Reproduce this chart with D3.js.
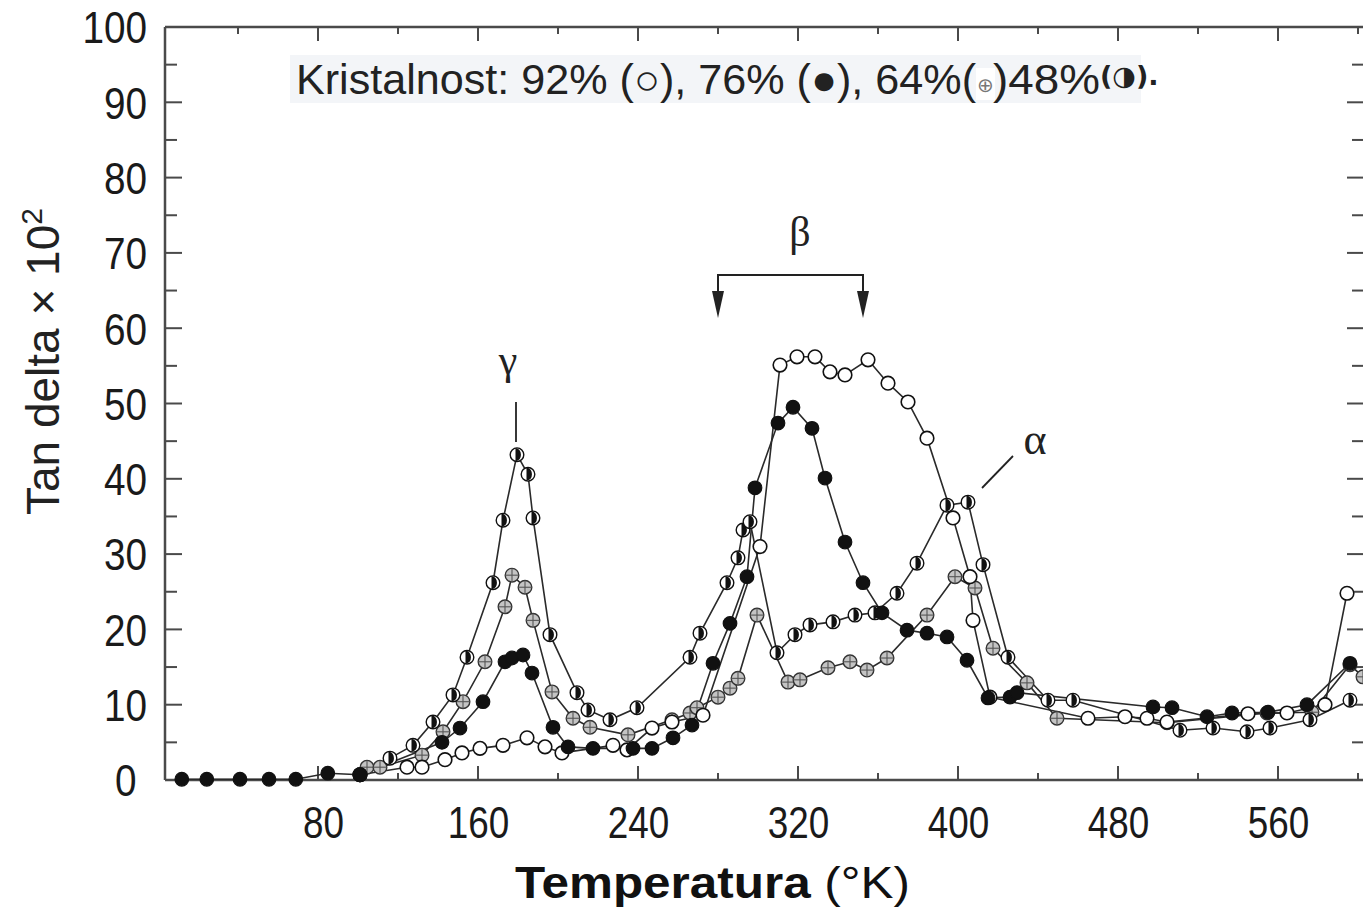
<!DOCTYPE html>
<html>
<head>
<meta charset="utf-8">
<script src="https://cdn.jsdelivr.net/npm/d3@7"></script>
<style>
  html, body { margin: 0; padding: 0; background: #fff; }
  svg { display: block; }
</style>
</head>
<body>
<svg id="chart" width="1363" height="912"></svg>
<script>
// ---------------- DATA ----------------
const xTickLabels = [80, 160, 240, 320, 400, 480, 560];
const yTickLabels = [0, 10, 20, 30, 40, 50, 60, 70, 80, 90, 100];

// Temperature (K), tan delta x 10^2
const cryst92 = [ // open circles
  [101, 0.7], [124.5, 1.7], [132, 1.7], [143.5, 2.7], [152, 3.6], [161, 4.2], [172.5, 4.6],
  [184.5, 5.6], [193.5, 4.4], [202, 3.6], [227.5, 4.6], [234.5, 4.0], [247, 6.9],
  [257, 7.7], [272.5, 8.6], [301, 31.0], [311, 55.1], [319.5, 56.2], [328.5, 56.2],
  [336, 54.2], [343.5, 53.8], [355, 55.8], [365, 52.7], [375, 50.2], [384.5, 45.4],
  [397.5, 34.8], [406, 27.0], [407.5, 21.2], [416, 11.0], [465, 8.2], [483.5, 8.4], [494.5, 8.2],
  [504.5, 7.7], [545, 8.8], [564.5, 8.9], [583.5, 10.0], [594.5, 24.8]
];
const cryst76 = [ // filled circles
  [11.9, 0.1], [24.4, 0.1], [41, 0.1], [55.5, 0.1], [68.9, 0.1], [84.9, 0.9], [101, 0.7],
  [142, 5.0], [151, 6.9], [162.5, 10.4], [173.5, 15.7], [177, 16.2], [182.5, 16.6],
  [187, 14.2], [197.5, 7.0], [205, 4.4], [217.5, 4.2], [237.5, 4.2], [247, 4.2],
  [257.5, 5.6], [267, 7.3], [277.5, 15.5], [286, 20.8], [294.5, 27.0], [298.5, 38.8],
  [310, 47.4], [317.5, 49.5], [327, 46.7], [333.5, 40.1], [343.5, 31.6], [352.5, 26.2],
  [362, 22.2], [374.5, 19.9], [384.5, 19.5], [394.5, 19.0], [404.5, 15.9], [415, 10.9],
  [426, 11.0], [429.5, 11.6], [497.5, 9.7], [507, 9.6], [524.5, 8.4], [537, 8.9],
  [555, 9.0], [574.5, 10.0], [596, 15.5]
];
const cryst64 = [ // crossed circles
  [101, 0.7], [104.5, 1.7], [111, 1.7], [132, 3.3], [142.5, 6.4], [152.5, 10.4],
  [163.5, 15.7], [173.5, 23.0], [177, 27.2], [183.5, 25.6], [187.5, 21.2], [197, 11.7],
  [207.5, 8.2], [216, 7.0], [235, 6.0], [257, 8.0], [266, 8.9], [269.5, 9.6], [280, 11.0],
  [286, 12.2], [290, 13.5], [299.5, 21.9], [315, 13.0], [321, 13.3], [335, 14.9],
  [346, 15.7], [354.5, 14.6], [364.5, 16.2], [384.5, 21.9], [398.5, 27.0], [408.5, 25.5],
  [417.5, 17.5], [434.5, 12.9], [449.5, 8.2], [504.5, 7.6], [554.5, 8.9], [577, 9.0],
  [596, 15.3], [602.5, 13.7]
];
const cryst48 = [ // half-filled circles
  [101, 0.7], [116, 2.9], [127.5, 4.6], [137.5, 7.7], [147.5, 11.3], [154.5, 16.3],
  [167.5, 26.2], [172.5, 34.5], [179.5, 43.2], [185, 40.6], [187.5, 34.8], [196, 19.3],
  [209.5, 11.6], [215, 9.3], [226, 8.0], [239.5, 9.6], [266, 16.3], [271, 19.5],
  [284.5, 26.2], [290, 29.5], [292.5, 33.2], [296, 34.3], [309.5, 16.9], [318.5, 19.3],
  [326, 20.6], [337.5, 21.0], [348.5, 21.9], [358.5, 22.2], [369.5, 24.8], [379.5, 28.8],
  [394.5, 36.5], [405, 36.9], [412.5, 28.6], [425, 16.3], [445, 10.6], [457.5, 10.6],
  [511, 6.6], [527.5, 6.9], [544.5, 6.4], [556, 6.9], [576, 8.0], [596, 10.6]
];

// ---------------- CHART ----------------
const svg = d3.select("#chart");
svg.append("rect").attr("width", 1363).attr("height", 912).attr("fill", "#fff");

const x = d3.scaleLinear().domain([3.5, 603]).range([165, 1364]);
const y = d3.scaleLinear().domain([0, 100]).range([780, 27]);

const axisColor = "#4a4a4a";
const sans = "'Liberation Sans', Arial, Helvetica, sans-serif";
const serif = "'Liberation Serif', 'Times New Roman', serif";

// frame
const frame = svg.append("g");
frame.append("line").attr("x1", 165).attr("x2", 1364).attr("y1", 780).attr("y2", 780)
  .attr("stroke", axisColor).attr("stroke-width", 2.5);
frame.append("line").attr("x1", 165).attr("x2", 1364).attr("y1", 27).attr("y2", 27)
  .attr("stroke", axisColor).attr("stroke-width", 2.5);
frame.append("line").attr("x1", 165).attr("x2", 165).attr("y1", 27).attr("y2", 780)
  .attr("stroke", axisColor).attr("stroke-width", 2.5);

// x ticks (bottom inward, top inward)
const xTicksAll = d3.range(40, 601, 40);
xTicksAll.forEach(t => {
  const major = t % 80 === 0;
  const len = major ? 14 : 7;
  frame.append("line").attr("x1", x(t)).attr("x2", x(t)).attr("y1", 780).attr("y2", 780 - len)
    .attr("stroke", axisColor).attr("stroke-width", 2);
  frame.append("line").attr("x1", x(t)).attr("x2", x(t)).attr("y1", 27).attr("y2", 27 + len)
    .attr("stroke", axisColor).attr("stroke-width", 2);
});

// y ticks (left inward, right inward)
d3.range(5, 100, 5).forEach(v => {
  const major = v % 10 === 0;
  const len = major ? 17 : 12;
  frame.append("line").attr("x1", 165).attr("x2", 165 + len).attr("y1", y(v)).attr("y2", y(v))
    .attr("stroke", axisColor).attr("stroke-width", 2);
  frame.append("line").attr("x1", 1364).attr("x2", 1364 - len).attr("y1", y(v)).attr("y2", y(v))
    .attr("stroke", axisColor).attr("stroke-width", 2);
});

// axis labels using d3 axes (text only)
const xAxis = d3.axisBottom(x).tickValues(xTickLabels).tickSize(0).tickPadding(0);
const gx = svg.append("g").attr("transform", "translate(0,780)").call(xAxis);
gx.select(".domain").remove();
gx.selectAll("text").attr("font-family", sans).attr("font-size", 45)
  .attr("fill", "#1a1a1a").attr("dy", null).attr("y", 58)
  .attr("x", d => d === 80 ? 6 : 0)
  .attr("transform", "scale(0.82,1)");

const yAxis = d3.axisLeft(y).tickValues(yTickLabels).tickSize(0).tickPadding(0);
const gy = svg.append("g").attr("transform", "translate(147,0)").call(yAxis);
gy.select(".domain").remove();
gy.selectAll("text").attr("font-family", sans).attr("font-size", 44)
  .attr("fill", "#1a1a1a").attr("dy", "0.36em").attr("x", d => d === 0 ? -12 : 0)
  .attr("transform", "scale(0.88,1)");

// axis titles
const xt = svg.append("text").attr("x", 515).attr("y", 898)
  .attr("font-family", sans).attr("font-size", 44).attr("fill", "#111");
xt.append("tspan").attr("font-weight", "bold").text("Temperatura");
xt.append("tspan").text(" (°K)");
xt.attr("textLength", 395).attr("lengthAdjust", "spacingAndGlyphs");

const yt = svg.append("text").attr("transform", "translate(59,515) rotate(-90)")
  .attr("font-family", sans).attr("font-size", 46).attr("fill", "#222");
yt.append("tspan").text("Tan delta × 10");
yt.append("tspan").attr("font-size", 30).attr("dy", -17).text("2");

// ---------------- SERIES ----------------
const line = d3.line().x(d => x(d[0])).y(d => y(d[1]));
const seriesList = [
  { data: cryst64, type: "cross" },
  { data: cryst92, type: "open" },
  { data: cryst48, type: "half" },
  { data: cryst76, type: "filled" }
];
const lines = svg.append("g");
seriesList.forEach(s => {
  lines.append("path").attr("d", line(s.data)).attr("fill", "none")
    .attr("stroke", "#2a2a2a").attr("stroke-width", 1.6);
});

const R = 6.8;
const marks = svg.append("g");
seriesList.forEach(s => {
  const g = marks.append("g");
  const pts = g.selectAll("g.pt").data(s.data).join("g").attr("class", "pt")
    .attr("transform", d => `translate(${x(d[0])},${y(d[1])})`);
  if (s.type === "open") {
    pts.append("circle").attr("r", R).attr("fill", "#fff").attr("stroke", "#111").attr("stroke-width", 1.6);
  } else if (s.type === "filled") {
    pts.append("circle").attr("r", R).attr("fill", "#111").attr("stroke", "#111").attr("stroke-width", 1.2);
  } else if (s.type === "cross") {
    pts.append("circle").attr("r", R).attr("fill", "#c4c4c4").attr("stroke", "#333").attr("stroke-width", 1.4);
    pts.append("line").attr("x1", -R).attr("x2", R).attr("stroke", "#555").attr("stroke-width", 1.1);
    pts.append("line").attr("y1", -R).attr("y2", R).attr("stroke", "#555").attr("stroke-width", 1.1);
  } else if (s.type === "half") {
    pts.append("circle").attr("r", R).attr("fill", "#fff").attr("stroke", "#111").attr("stroke-width", 1.4);
    pts.append("path").attr("d", `M -1.5 ${-R*0.98} A ${R} ${R} 0 0 1 -1.5 ${R*0.98} Z`).attr("fill", "#111");
  }
});

// ---------------- ANNOTATIONS ----------------
const ann = svg.append("g").attr("fill", "#222").attr("stroke", "#222");
ann.append("text").attr("x", 508).attr("y", 374).attr("text-anchor", "middle")
  .attr("font-family", serif).attr("font-size", 42).attr("stroke", "none").text("γ");
ann.append("line").attr("x1", 516).attr("x2", 516).attr("y1", 402).attr("y2", 442).attr("stroke-width", 1.8);

ann.append("text").attr("x", 800).attr("y", 246).attr("text-anchor", "middle")
  .attr("font-family", serif).attr("font-size", 42).attr("stroke", "none").text("β");
ann.append("path").attr("d", "M718 300 L718 275 L863 275 L863 300").attr("fill", "none").attr("stroke-width", 2);
ann.append("path").attr("d", "M712 291 L724 291 L718 318 Z").attr("stroke", "none");
ann.append("path").attr("d", "M857 291 L869 291 L863 318 Z").attr("stroke", "none");

ann.append("text").attr("x", 1035).attr("y", 454).attr("text-anchor", "middle")
  .attr("font-family", serif).attr("font-size", 44).attr("stroke", "none").text("α");
ann.append("line").attr("x1", 1013).attr("y1", 456).attr("x2", 982).attr("y2", 488).attr("stroke-width", 1.8);

// ---------------- LEGEND ----------------
const leg = svg.append("g");
leg.append("rect").attr("x", 290).attr("y", 55).attr("width", 851).attr("height", 48).attr("fill", "#f3f5f8");
leg.append("text").attr("x", 296).attr("y", 94).attr("font-family", sans).attr("font-size", 42)
  .attr("fill", "#222").attr("textLength", 680).attr("lengthAdjust", "spacingAndGlyphs")
  .text("Kristalnost: 92% (○), 76% (●), 64%(");
leg.append("rect").attr("x", 976).attr("y", 68).attr("width", 19).attr("height", 32).attr("fill", "#fff");
leg.append("text").attr("x", 985.5).attr("y", 92).attr("text-anchor", "middle").attr("font-family", "'DejaVu Sans', sans-serif")
  .attr("font-size", 20).attr("fill", "#777").text("⊕");
leg.append("text").attr("x", 993).attr("y", 94).attr("font-family", sans).attr("font-size", 42)
  .attr("fill", "#222").attr("textLength", 107).attr("lengthAdjust", "spacingAndGlyphs").text(")48%");
const l4 = leg.append("text").attr("x", 1100).attr("y", 85).attr("font-family", "'DejaVu Sans', sans-serif").attr("font-size", 27)
  .attr("font-weight", "bold").attr("fill", "#222");
l4.append("tspan").text("(◑).");
</script>
</body>
</html>
